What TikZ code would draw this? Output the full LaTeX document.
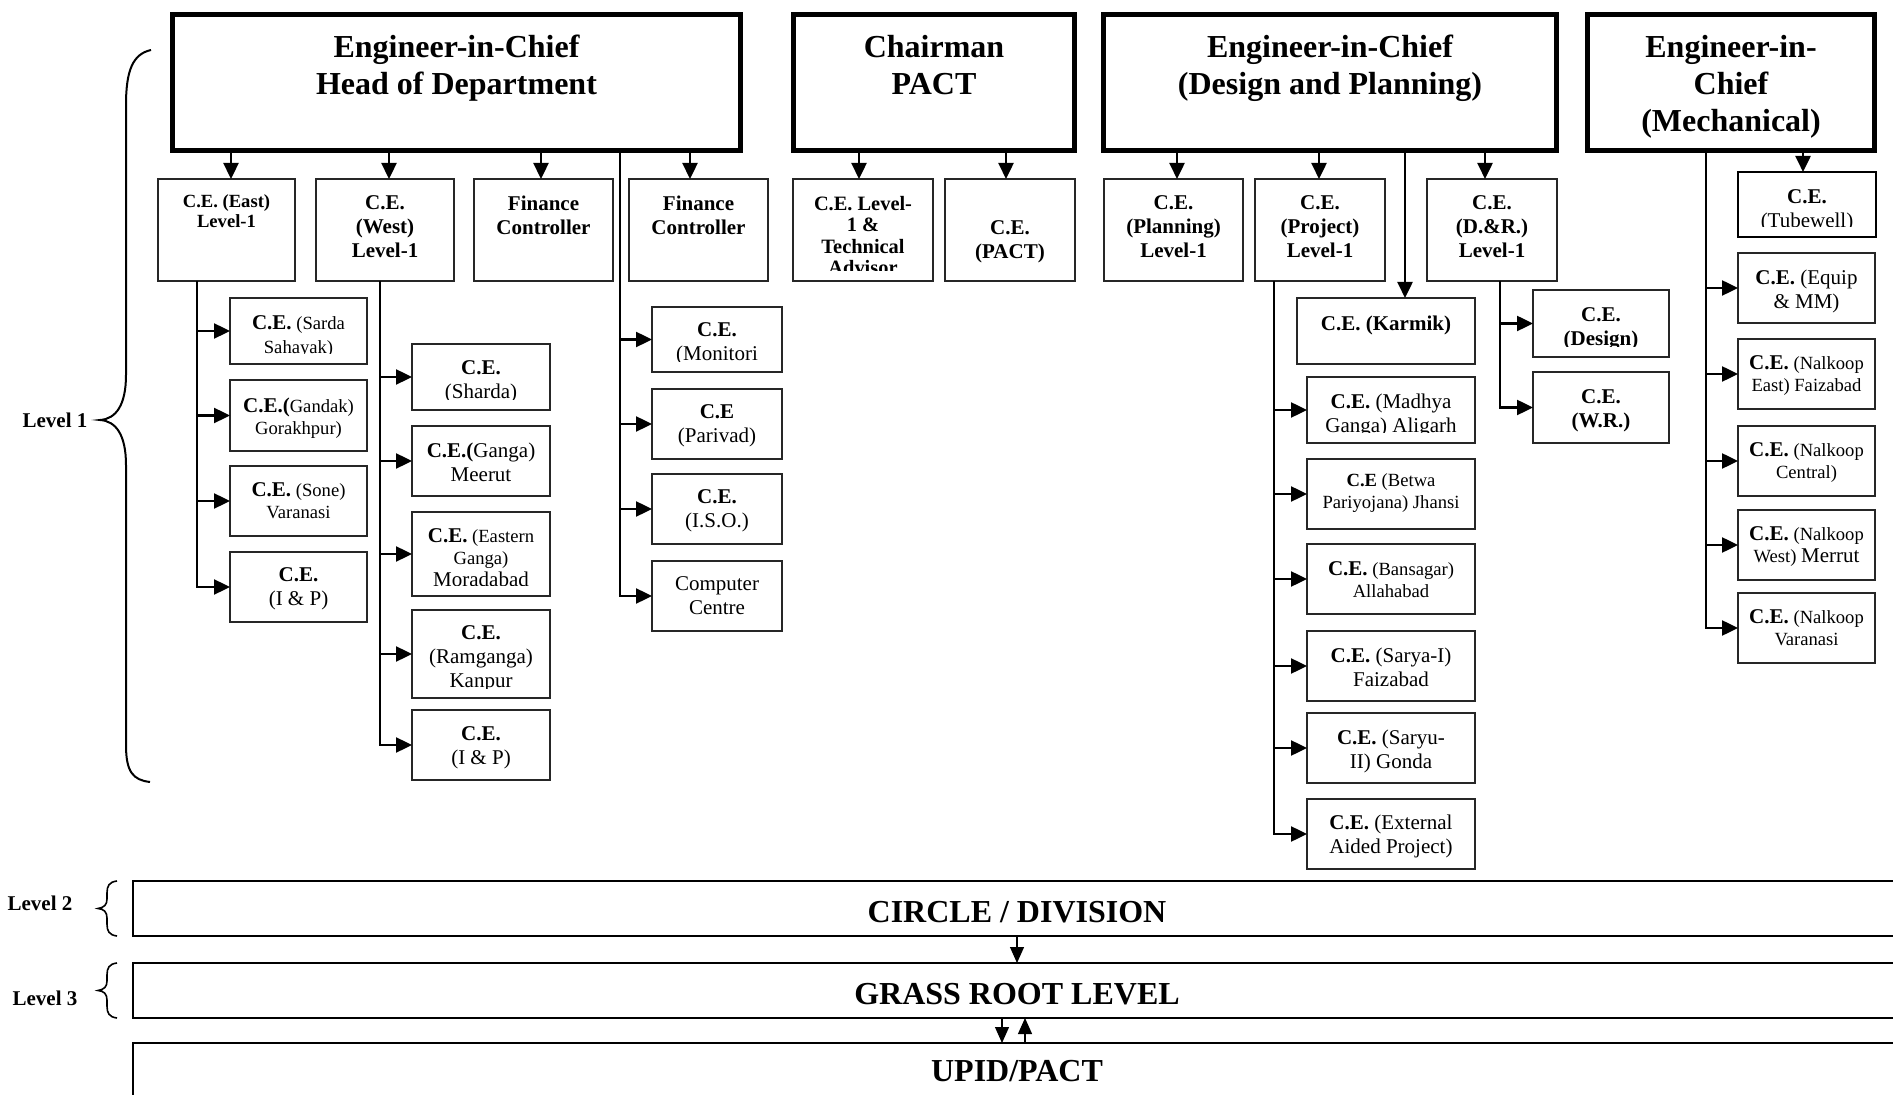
\documentclass[tikz,border=0pt]{standalone}
\usepackage{fontspec}
\setmainfont{Liberation Serif}
\usetikzlibrary{arrows.meta}
\newcommand\fbig{\fontsize{16}{18.5}\selectfont}
\newcommand\fmid{\fontsize{10.5}{12}\selectfont}
\newcommand\fsml{\fontsize{9.3}{11}\selectfont}
\newcommand\ceB[1]{{\fontsize{10.5}{11}\selectfont\bfseries #1}}
\tikzset{
  cbox/.style={draw=black!85, line width=0.55pt, rectangle, inner sep=0pt, outer sep=0pt, anchor=north west, fill=white},
  headbox/.style={draw=black, line width=2.5pt},
  tubebox/.style={draw=black, line width=1.3pt},
  txt/.style={anchor=north, align=center, inner sep=0pt, outer sep=0pt},
  ln/.style={line width=1.2pt},
  arr/.style={line width=1.2pt, -{Triangle[length=8pt,width=7.5pt]}},
  arrs/.style={line width=0.6pt, -{Triangle[length=8pt,width=7pt]}},
  bar/.style={draw, line width=1.25pt, rectangle, inner sep=0pt, outer sep=0pt, anchor=north west, font=\fbig\bfseries},
  brc/.style={line width=1pt},
  brcs/.style={line width=0.8pt},
  lvl/.style={font=\fmid\bfseries, inner sep=0pt},
}
% #1 style, #2 name, #3 x1, #4 y1, #5 x2, #6 y2, #7 text top y, #8 font, #9 text
\newcommand\orgbox[9][]{%
  \node[cbox,#1,minimum width={(#5-#3)*0.5pt},minimum height={(#6-#4)*0.5pt}] (#2) at (#3,#4) {};
  \begin{scope}
    \clip ([yshift=5pt]#2.south west) rectangle (#2.north east);
    \node[txt,font=#8] (#2t) at ([yshift={(#4-#7)*0.5pt}]#2.north) {#9};
  \end{scope}}
\begin{document}
\begin{tikzpicture}[x=0.5pt,y=-0.5pt]
\useasboundingbox (0,0) rectangle (1893,1095);
\clip (0,0) rectangle (1893,1095);

% ---------- heads ----------
\orgbox[headbox]{hod}{172.5}{14.5}{740.5}{150.5}{35}{\fbig\bfseries}{Engineer-in-Chief\\Head of Department}
\orgbox[headbox]{chair}{793.5}{14.5}{1074.5}{150.5}{35}{\fbig\bfseries}{Chairman\\PACT}
\orgbox[headbox]{dp}{1103.5}{14.5}{1556.5}{150.5}{35}{\fbig\bfseries}{Engineer-in-Chief\\(Design and Planning)}
\orgbox[headbox]{mech}{1587.5}{14.5}{1874.5}{150.5}{35}{\fbig\bfseries}{Engineer-in-\\Chief\\(Mechanical)}

% ---------- second row ----------
\orgbox{east}{158}{179}{295}{281}{195}{\fontsize{9.3}{10}\selectfont\bfseries}{C.E. (East)\\Level-1}
\orgbox{west}{316}{179}{454}{281}{196}{\fmid\bfseries}{C.E.\\(West)\\Level-1}
\orgbox{fca}{474}{179}{613}{281}{196}{\fmid\bfseries}{Finance\\Controller}
\orgbox{fcb}{629}{179}{768}{281}{196}{\fmid\bfseries}{Finance\\Controller}
\orgbox{cel}{793}{179}{933}{281}{196}{\fontsize{10.2}{10.8}\selectfont\bfseries}{C.E. Level-\\1 \&\\Technical\\Advisor}
\orgbox{pact}{945}{179}{1075}{281}{221}{\fmid\bfseries}{C.E.\\(PACT)}
\orgbox{plan}{1104}{179}{1243}{281}{196}{\fmid\bfseries}{C.E.\\(Planning)\\Level-1}
\orgbox{proj}{1255}{179}{1385}{281}{196}{\fmid\bfseries}{C.E.\\(Project)\\Level-1}
\orgbox{dr}{1427}{179}{1557}{281}{196}{\fmid\bfseries}{C.E.\\(D.\&R.)\\Level-1}
\orgbox[tubebox]{tube}{1738}{172}{1876}{237}{190}{\fmid}{\textbf{C.E.}\\(Tubewell)}

% ---------- East children ----------
\orgbox{sarda}{230}{298}{367}{364}{316}{\fontsize{9.3}{12}\selectfont}{\ceB{C.E.} (Sarda\\Sahayak)}
\orgbox{gandak}{230}{380}{367}{451}{398}{\fsml}{\ceB{C.E.(}Gandak)\\Gorakhpur)}
\orgbox{sone}{230}{466}{367}{536}{483}{\fsml}{\ceB{C.E.} (Sone)\\Varanasi}
\orgbox{eip}{230}{552}{367}{622}{568}{\fmid}{\textbf{C.E.}\\(I \& P)}

% ---------- West children ----------
\orgbox{sharda}{412}{344}{550}{410}{361}{\fmid}{\textbf{C.E.}\\(Sharda)}
\orgbox{ganga}{412}{426}{550}{496}{443}{\fmid}{\textbf{C.E.(}Ganga)\\Meerut}
\orgbox{egan}{412}{512}{550}{596}{529}{\fsml}{\ceB{C.E.} (Eastern\\Ganga)\\{\fontsize{10.5}{11}\selectfont Moradabad}}
\orgbox{ramg}{412}{610}{550}{698}{626}{\fmid}{\textbf{C.E.}\\(Ramganga)\\Kanpur}
\orgbox{wip}{412}{710}{550}{780}{727}{\fmid}{\textbf{C.E.}\\(I \& P)}

% ---------- Finance children ----------
\orgbox{moni}{652}{307}{782}{372}{323}{\fmid}{\textbf{C.E.}\\(Monitori}
\orgbox{pari}{652}{389}{782}{459}{405}{\fmid}{\textbf{C.E}\\(Parivad)}
\orgbox{iso}{652}{474}{782}{544}{490}{\fmid}{\textbf{C.E.}\\(I.S.O.)}
\orgbox{comp}{652}{561}{782}{631}{577}{\fmid}{Computer\\Centre}

% ---------- Design & Planning children ----------
\orgbox{karmik}{1297}{298}{1475}{364}{316}{\fmid\bfseries}{C.E. (Karmik)}
\orgbox{madh}{1307}{377}{1475}{443}{394}{\fmid}{\textbf{C.E.} (Madhya\\Ganga) Aligarh}
\orgbox{betwa}{1307}{459}{1475}{529}{474}{\fsml}{\textbf{C.E} (Betwa\\Pariyojana) Jhansi}
\orgbox{bans}{1307}{544}{1475}{614}{562}{\fsml}{\ceB{C.E.} (Bansagar)\\Allahabad}
\orgbox{sarya}{1307}{631}{1475}{701}{648}{\fmid}{\textbf{C.E.} (Sarya-I)\\Faizabad}
\orgbox{saryu}{1307}{713}{1475}{783}{730}{\fmid}{\textbf{C.E.} (Saryu-\\II) Gonda}
\orgbox{ext}{1307}{799}{1475}{869}{815}{\fmid}{\textbf{C.E.} (External\\Aided Project)}
\orgbox{design}{1533}{290}{1669}{357}{308}{\fmid\bfseries}{C.E.\\(Design)}
\orgbox{wr}{1533}{372}{1669}{443}{390}{\fmid\bfseries}{C.E.\\(W.R.)}

% ---------- Mechanical children ----------
\orgbox{equip}{1738}{253}{1875}{323}{270}{\fmid}{\textbf{C.E.} (Equip\\\& MM)}
\orgbox{ne}{1738}{339}{1875}{409}{356}{\fsml}{\ceB{C.E.} (Nalkoop\\East) Faizabad}
\orgbox{nc}{1738}{426}{1875}{496}{443}{\fsml}{\ceB{C.E.} (Nalkoop\\Central)}
\orgbox{nw}{1738}{510}{1875}{580}{527}{\fsml}{\ceB{C.E.} (Nalkoop\\West) {\fontsize{10.5}{11}\selectfont Merrut}}
\orgbox{nv}{1738}{593}{1875}{663}{610}{\fsml}{\ceB{C.E.} (Nalkoop\\Varanasi}

% ---------- connector x positions ----------
\foreach \n/\x in {ca/231,cb/389,cc/541,cd/690,ce/859,cf/1006,cg/1177,ch/1319,ci/1485,cj/1803,
                   ex/197,wx/380,fx/620,kx/1405,px/1274,dx/1500,mx/1706,ba/1002,bb/1025}
  \coordinate (\n) at (\x,0);

% heads to second row
\draw[arr] (ca |- hod.south) -- (ca |- east.north);
\draw[arr] (cb |- hod.south) -- (cb |- west.north);
\draw[arr] (cc |- hod.south) -- (cc |- fca.north);
\draw[arr] (cd |- hod.south) -- (cd |- fcb.north);
\draw[arr] (ce |- chair.south) -- (ce |- cel.north);
\draw[arr] (cf |- chair.south) -- (cf |- pact.north);
\draw[arr] (cg |- dp.south) -- (cg |- plan.north);
\draw[arr] (ch |- dp.south) -- (ch |- proj.north);
\draw[arr] (ci |- dp.south) -- (ci |- dr.north);
\draw[arr] (kx |- dp.south) -- (kx |- karmik.north);
\draw[arr] (cj |- mech.south) -- (cj |- tube.north);

% East branch
\draw[arr] (ex |- east.south) -- (ex |- eip.west) -- (eip.west);
\foreach \n in {sarda,gandak,sone} \draw[arr] (ex |- \n.west) -- (\n.west);
% West branch
\draw[arr] (wx |- west.south) -- (wx |- wip.west) -- (wip.west);
\foreach \n in {sharda,ganga,egan,ramg} \draw[arr] (wx |- \n.west) -- (\n.west);
% Finance branch
\draw[arr] (fx |- hod.south) -- (fx |- comp.west) -- (comp.west);
\foreach \n in {moni,pari,iso} \draw[arr] (fx |- \n.west) -- (\n.west);
% Project branch
\draw[arr] (px |- proj.south) -- (px |- ext.west) -- (ext.west);
\foreach \n in {madh,betwa,bans,sarya,saryu} \draw[arr] (px |- \n.west) -- (\n.west);
% D&R branch
\draw[arr] (dx |- dr.south) -- (dx |- wr.west) -- (wr.west);
\draw[arr] (dx |- design.west) -- (design.west);
% Mechanical branch
\draw[arr] (mx |- mech.south) -- (mx |- nv.west) -- (nv.west);
\foreach \n in {equip,ne,nc,nw} \draw[arr] (mx |- \n.west) -- (\n.west);

% ---------- bottom levels ----------
\node[bar, text height=14pt, text depth=0pt, minimum width={(1901-133)*0.5pt}, minimum height={(936-881)*0.5pt}] (circ) at (133,881) {CIRCLE / DIVISION};
\node[bar, text height=14pt, text depth=0pt, minimum width={(1901-133)*0.5pt}, minimum height={(1018-963)*0.5pt}] (grass) at (133,963) {GRASS ROOT LEVEL};
\node[bar, minimum width={(1901-133)*0.5pt}, minimum height={(1100-1043)*0.5pt}] (upid) at (133,1043) {UPID/PACT};
\draw[arrs] (circ.south) -- (grass.north);
\draw[arrs] (ba |- grass.south) -- (ba |- upid.north);
\draw[arrs] (bb |- upid.north) -- (bb |- grass.south);

% ---------- level braces and labels ----------
\draw[brc] (151,50) .. controls (133,54) and (126,70) .. (126,105) -- (126,375)
  .. controls (126,405) and (116,419) .. (100,420)
  .. controls (116,421) and (126,435) .. (126,465) -- (126,745)
  .. controls (126,772) and (133,780) .. (150,782);
\node[lvl] (lv1) at (55,420) {Level 1};

\draw[brcs] (117,881) .. controls (109,882) and (107,886) .. (107,893) -- (107,899)
  .. controls (107,905) and (104,907.5) .. (98,908.5)
  .. controls (104,909) and (107,912) .. (107,918) -- (107,924)
  .. controls (107,931) and (109,935) .. (117,936);
\node[lvl] (lv2) at (40,903) {Level 2};

\begin{scope}[shift={(0,82)}]
\draw[brcs] (117,881) .. controls (109,882) and (107,886) .. (107,893) -- (107,899)
  .. controls (107,905) and (104,907.5) .. (98,908.5)
  .. controls (104,909) and (107,912) .. (107,918) -- (107,924)
  .. controls (107,931) and (109,935) .. (117,936);
\end{scope}
\node[lvl] (lv3) at (45,998) {Level 3};
\end{tikzpicture}
\end{document}
